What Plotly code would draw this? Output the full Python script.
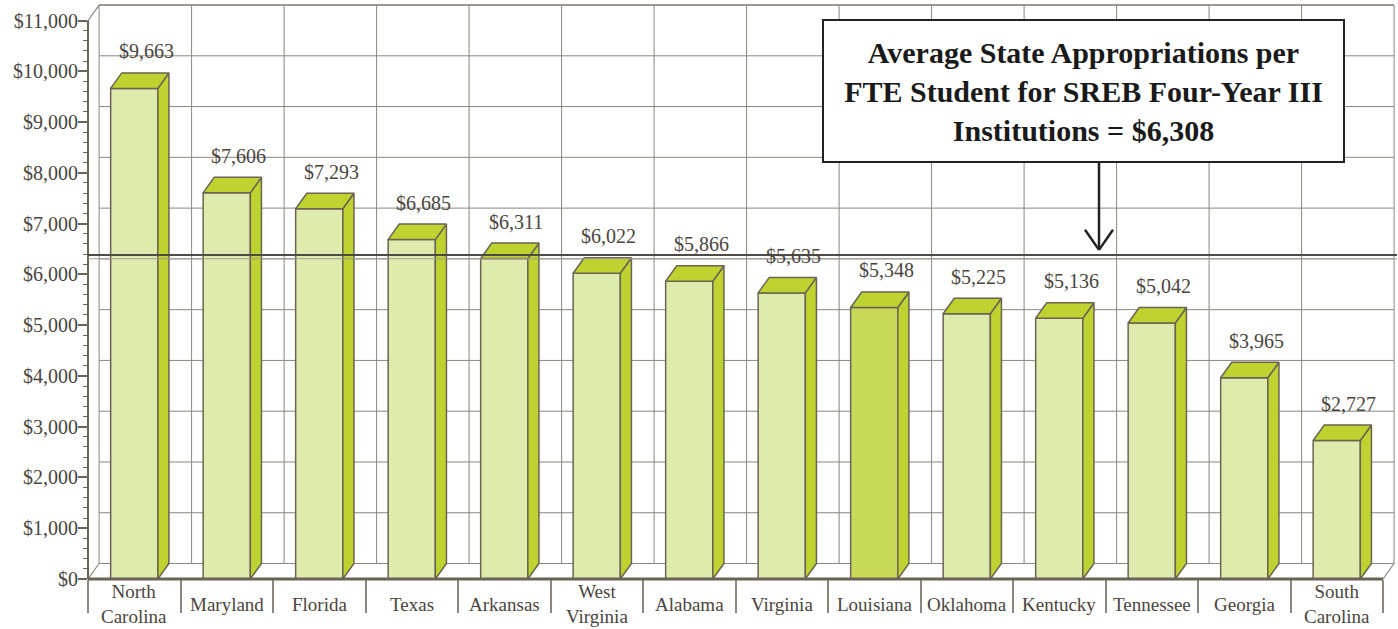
import plotly.graph_objects as go

# ---------------- data ----------------
states = ["North<br>Carolina", "Maryland", "Florida", "Texas", "Arkansas",
          "West<br>Virginia", "Alabama", "Virginia", "Louisiana", "Oklahoma",
          "Kentucky", "Tennessee", "Georgia", "South<br>Carolina"]
values = [9663, 7606, 7293, 6685, 6311, 6022, 5866, 5635, 5348, 5225,
          5136, 5042, 3965, 2727]
highlight = "Louisiana"
average = 6308
y_ticks = list(range(0, 11001, 1000))
y_tick_labels = ["$" + format(v, ",") for v in y_ticks]
box_lines = ["Average State Appropriations per",
             "FTE Student for SREB Four-Year III",
             "Institutions = $" + format(average, ",")]

# ---------------- style ----------------
W, H = 1398, 629
ML, MR, MT, MB = 88, 1, 3, 50
PW, PH = W - ML - MR, H - MT - MB
X_PPU = 92.5                      # px per category
XMIN = -0.5
XMAX = XMIN + PW / X_PPU
YMAX = 11345
BAR_W = 0.51
DX = 0.12                         # depth offset (x units)
DY = 305                          # depth offset (y units)
FRONT = "#dfeaad"
FRONT_HI = "#c9da5a"
SIDE = "#bed32f"
OUTLINE = "#6b6353"
GRID = "#8c867e"
AXIS = "#6b6355"
TEXT = "#4a4540"
FONT = "Liberation Serif"

n = len(values)
idx = list(range(n))
top_val = y_ticks[-1]


def paper_x(px):
    return (px - ML) / PW


def paper_y(py):
    return (MT + PH - py) / PH


fig = go.Figure()

# front faces
fig.add_trace(go.Bar(
    x=idx, y=values, width=BAR_W,
    marker=dict(color=[FRONT_HI if s == highlight else FRONT for s in states],
                line=dict(color=OUTLINE, width=1.5)),
    hoverinfo="skip"))

# side faces and top faces
sx, sy, tx, ty = [], [], [], []
for i, v in zip(idx, values):
    r = i + BAR_W / 2
    l = i - BAR_W / 2
    sx += [r, r + DX, r + DX, r, r, None]
    sy += [0, DY, v + DY, v, 0, None]
    tx += [l, l + DX, r + DX, r, l, None]
    ty += [v, v + DY, v + DY, v, v, None]
for xs, ys in ((sx, sy), (tx, ty)):
    fig.add_trace(go.Scatter(x=xs, y=ys, mode="lines", fill="toself",
                             fillcolor=SIDE, line=dict(color=OUTLINE, width=1.5),
                             hoverinfo="skip"))

shapes = []
# back-wall horizontal gridlines
for v in y_ticks[1:-1]:
    shapes.append(dict(type="line", xref="x", yref="y", layer="below",
                       x0=XMIN + DX, x1=XMIN + n + DX, y0=v + DY, y1=v + DY,
                       line=dict(color=GRID, width=1)))
# back floor line
shapes.append(dict(type="line", xref="x", yref="y", layer="below",
                   x0=XMIN + DX, x1=XMIN + n + DX, y0=DY, y1=DY,
                   line=dict(color=GRID, width=1.2)))
# back wall top line
shapes.append(dict(type="line", xref="x", yref="y", layer="below",
                   x0=XMIN + DX, x1=XMIN + n + DX, y0=top_val + DY, y1=top_val + DY,
                   line=dict(color="#a0978e", width=2)))
# back-wall vertical gridlines
for k in range(n + 1):
    xv = XMIN + k + DX
    shapes.append(dict(type="line", xref="x", yref="y", layer="below",
                       x0=xv, x1=xv, y0=DY, y1=top_val + DY,
                       line=dict(color=GRID, width=1)))
# left wall diagonals and right floor diagonal
for (x0, y0) in ((XMIN, 0), (XMIN, top_val), (XMIN + n, 0)):
    shapes.append(dict(type="line", xref="x", yref="y", layer="below",
                       x0=x0, x1=x0 + DX, y0=y0, y1=y0 + DY,
                       line=dict(color=GRID, width=1.2)))
# front axis
shapes.append(dict(type="line", xref="paper", yref="y", layer="above",
                   x0=0, x1=0, y0=0, y1=top_val,
                   line=dict(color=AXIS, width=2)))
# floor front edge
shapes.append(dict(type="line", xref="x", yref="paper", layer="above",
                   x0=XMIN, x1=XMIN + n, y0=0, y1=0,
                   line=dict(color=AXIS, width=3)))
# average lines
shapes.append(dict(type="line", xref="paper", yref="y", layer="above",
                   x0=0, x1=1, y0=average + 75, y1=average + 75,
                   line=dict(color="#4e4a45", width=2)))
shapes.append(dict(type="line", xref="paper", yref="y", layer="above",
                   x0=0, x1=1, y0=average, y1=average,
                   line=dict(color="#a39c94", width=1.2)))
# arrow from box to average line
ax = paper_x(1099)
tip = average + 175
shapes.append(dict(type="line", xref="paper", yref="y", layer="above",
                   x0=ax, x1=ax, y0=(MT + PH - 163) / PH * YMAX, y1=tip,
                   line=dict(color="#222222", width=2.5)))
for sgn in (-1, 1):
    shapes.append(dict(type="line", xref="paper", yref="y", layer="above",
                       x0=ax + sgn * 14 / PW, x1=ax, y0=tip + 395, y1=tip,
                       line=dict(color="#222222", width=2.5)))

annotations = []
# value labels
for i, v in zip(idx, values):
    annotations.append(dict(x=i + 0.13, y=v, xref="x", yref="y", yanchor="bottom",
                            yshift=24, showarrow=False, text="$" + format(v, ","),
                            font=dict(family=FONT, size=20, color=TEXT)))
# category labels
for i, s in zip(idx, states):
    annotations.append(dict(x=i, y=0, xref="x", yref="paper", yanchor="middle",
                            yshift=-25, showarrow=False, text=s,
                            font=dict(family=FONT, size=19, color=TEXT)))
# title box
annotations.append(dict(x=paper_x(1083.5), y=paper_y(91), xref="paper", yref="paper",
                        xanchor="center", yanchor="middle", showarrow=False,
                        text="<br>".join("<b>" + t + "</b>" for t in box_lines),
                        width=517, height=138, bgcolor="white",
                        bordercolor="#222222", borderwidth=2, borderpad=1,
                        font=dict(family=FONT, size=30, color="#1a1a1a")))

fig.update_layout(
    width=W, height=H,
    margin=dict(l=ML, r=MR, t=MT, b=MB),
    paper_bgcolor="white", plot_bgcolor="white",
    showlegend=False, hovermode=False,
    shapes=shapes, annotations=annotations,
    xaxis=dict(range=[XMIN, XMAX], showgrid=False, zeroline=False, showline=False,
               tickvals=[XMIN + k for k in range(n + 1)], ticks="outside",
               ticklen=33, tickwidth=1.5, tickcolor=GRID, showticklabels=False),
    yaxis=dict(range=[0, YMAX], showgrid=False, zeroline=False, showline=False,
               tickvals=y_ticks, ticktext=y_tick_labels, ticks="outside",
               ticklen=9, tickwidth=1.5, tickcolor=AXIS, ticklabelstandoff=-4,
               tickfont=dict(family=FONT, size=20, color=TEXT),
               minor=dict(tickvals=[v for v in range(200, top_val, 200) if v % 1000],
                          ticks="outside", ticklen=4, tickwidth=1, tickcolor=AXIS)),
)

fig.write_html("out.html", config={"displayModeBar": False},
               post_script="document.body.style.margin='0';")
